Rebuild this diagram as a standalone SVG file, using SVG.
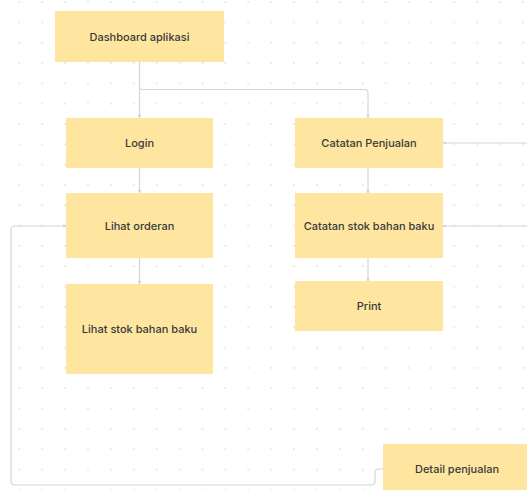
<svg xmlns="http://www.w3.org/2000/svg" width="527" height="490" viewBox="0 0 527 490">
<style>
.node rect{fill:#fee6a1;}
.node text{font-family:Inter,"Liberation Sans",sans-serif;font-size:11px;font-weight:500;fill:#3a3a3a;text-anchor:middle;dominant-baseline:central;}
.conn path{fill:none;stroke:#d6d6d6;stroke-width:1.2;}
</style>
<defs>
<pattern id="dots" x="19.3" y="2" width="22.9" height="20.33" patternUnits="userSpaceOnUse">
<circle cx="0" cy="0" r="0.8" fill="#cfcfcf"/>
<circle cx="22.9" cy="0" r="0.8" fill="#cfcfcf"/>
<circle cx="0" cy="20.33" r="0.8" fill="#cfcfcf"/>
<circle cx="22.9" cy="20.33" r="0.8" fill="#cfcfcf"/>
</pattern>
<marker id="arr" viewBox="0 0 6 6" refX="5.5" refY="3" markerWidth="3.2" markerHeight="3.2" orient="auto" markerUnits="userSpaceOnUse">
<path d="M0,0 L6,3 L0,6 z" fill="#d0d0d0"/>
</marker>
</defs>
<rect width="527" height="490" fill="#ffffff"/>
<rect width="527" height="490" fill="url(#dots)"/>
<g id="connectors" class="conn">
<path d="M139.5,62 V118" marker-end="url(#arr)"/>
<path d="M139.5,86 Q139.5,89.5 143,89.5 H364.5 Q368,89.5 368,93 V118" marker-end="url(#arr)"/>
<path d="M139.5,168 V193" marker-end="url(#arr)"/>
<path d="M139.5,258 V284" marker-end="url(#arr)"/>
<path d="M368,168 V193" marker-end="url(#arr)"/>
<path d="M368,258 V281" marker-end="url(#arr)"/>
<path d="M527,143 H443" marker-end="url(#arr)"/>
<path d="M527,226 H443" marker-end="url(#arr)"/>
<path d="M383,469 H379 Q375,469 375,473 V481 Q375,485 371,485 H15 Q11,485 11,481 V230 Q11,226 15,226 H66" marker-end="url(#arr)"/>
</g>
<g id="dashboard" class="node"><rect x="55" y="11" width="169" height="51"/><text x="139.5" y="36.5">Dashboard aplikasi</text></g>
<g id="login" class="node"><rect x="66" y="118" width="147" height="50"/><text x="139.5" y="143">Login</text></g>
<g id="lihat-orderan" class="node"><rect x="66" y="193" width="147" height="65"/><text x="139.5" y="226">Lihat orderan</text></g>
<g id="lihat-stok" class="node"><rect x="66" y="284" width="147" height="90"/><text x="139.5" y="329">Lihat stok bahan baku</text></g>
<g id="catatan-penjualan" class="node"><rect x="295" y="118" width="148" height="50"/><text x="369" y="143">Catatan Penjualan</text></g>
<g id="catatan-stok" class="node"><rect x="295" y="193" width="148" height="65"/><text x="369" y="226">Catatan stok bahan baku</text></g>
<g id="print" class="node"><rect x="295" y="281" width="148" height="50"/><text x="369" y="306">Print</text></g>
<g id="detail-penjualan" class="node"><rect x="383" y="444" width="150" height="50"/><text x="457" y="469">Detail penjualan</text></g>
</svg>
